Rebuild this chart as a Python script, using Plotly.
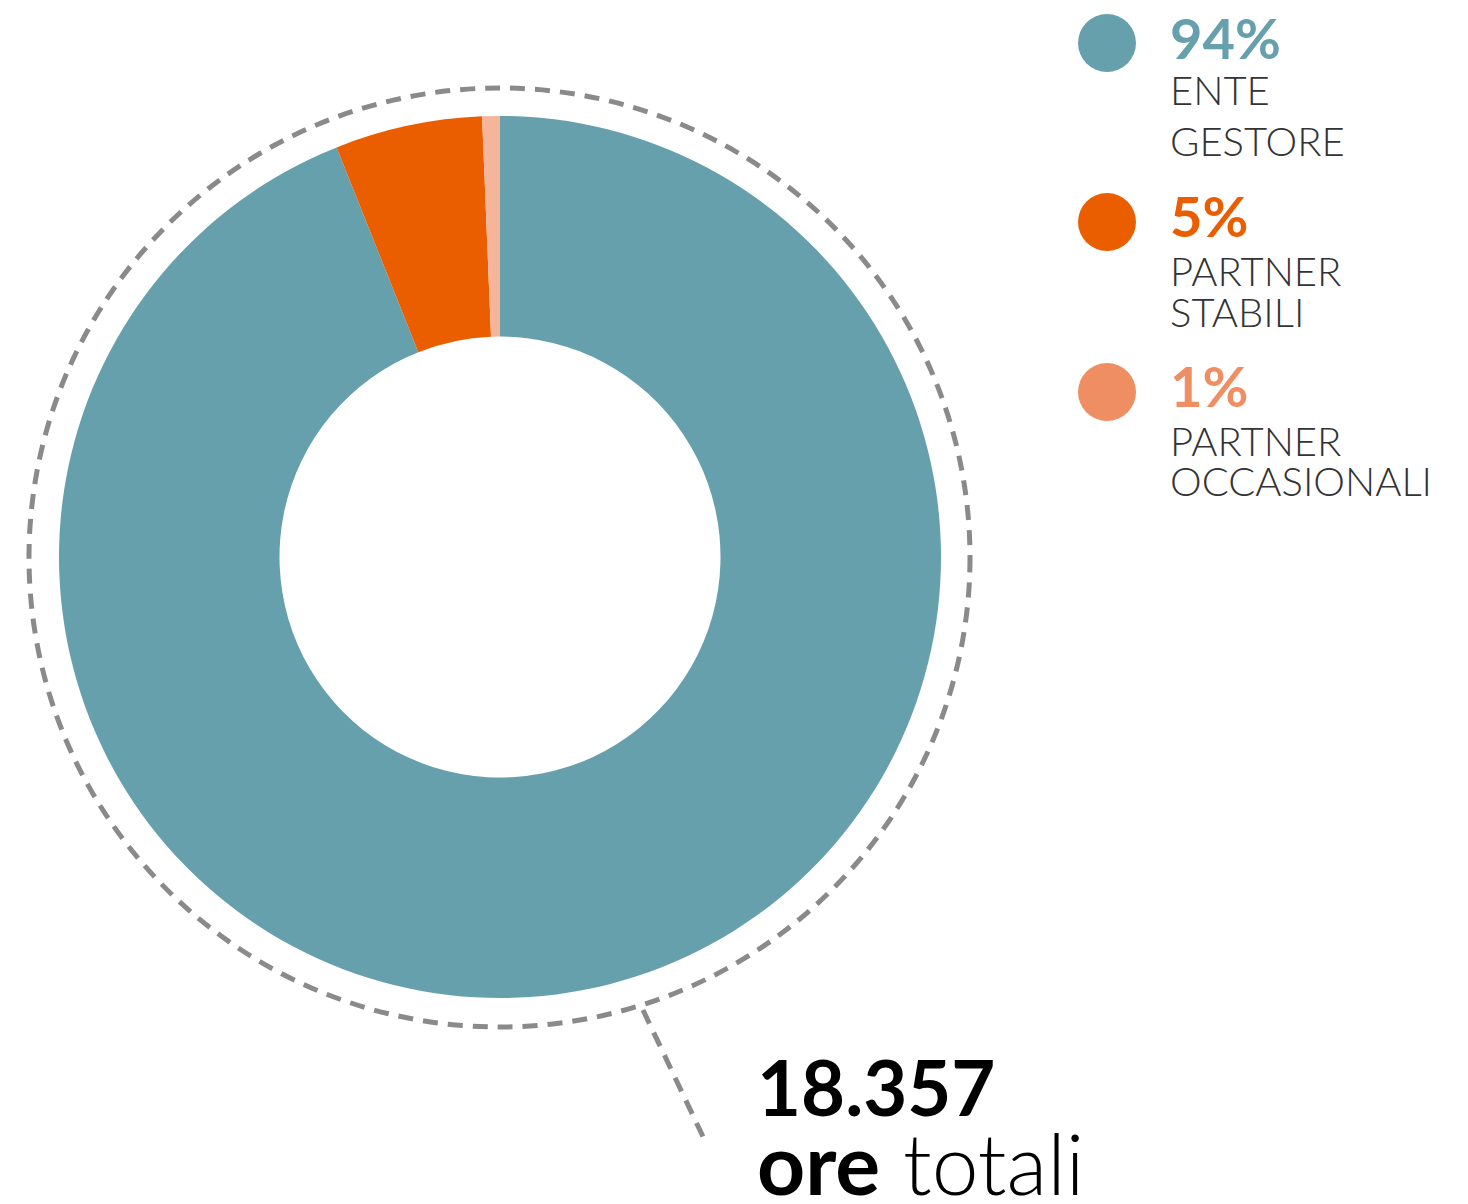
import plotly.graph_objects as go

# page body has an 8px margin: draw the figure 8px smaller and offset coordinates
OFF = 8
W, H = 1468 - 2 * OFF, 1204 - 2 * OFF

categories = ["ENTE GESTORE", "PARTNER STABILI", "PARTNER OCCASIONALI"]
hours = [17248, 990, 119]
pct_labels = ["94%", "5%", "1%"]
label_lines = [["ENTE", "GESTORE"], ["PARTNER", "STABILI"], ["PARTNER", "OCCASIONALI"]]
slice_colors = ["#67A0AD", "#EB5E00", "#F5B59A"]
legend_colors = ["#67A0AD", "#EB5E00", "#EF8E62"]
total_value = "18.357"
total_unit_bold = "ore"
total_unit_light = "totali"

FONT = "Lato"

def px(x):
    return (x - OFF) / W

def py(y):
    return 1 - (y - OFF) / H

cx, cy, r_out = 500, 557, 441

fig = go.Figure(go.Pie(
    labels=categories,
    values=hours,
    sort=False,
    direction="clockwise",
    rotation=0,
    hole=0.5,
    marker=dict(colors=slice_colors, line=dict(width=0)),
    textinfo="none",
    hoverinfo="label+value+percent",
    domain=dict(x=[px(cx - r_out), px(cx + r_out)], y=[py(cy + r_out), py(cy - r_out)]),
    showlegend=False,
))

shapes = []
dash_line = dict(color="#8A8A8A", width=5, dash="15px,10px")
# dashed outer ring
shapes.append(dict(type="circle", xref="paper", yref="paper",
                   x0=px(29), x1=px(970), y0=py(1027), y1=py(88),
                   line=dash_line))
# leader line
shapes.append(dict(type="line", xref="paper", yref="paper",
                   x0=px(643), y0=py(1010), x1=px(706), y1=py(1143),
                   line=dash_line))

annotations = []
dot_y = [43, 222, 392]
pct_y = [37, 216, 386]
line_y = [[90, 141], [271, 312], [441, 481]]
for i in range(3):
    shapes.append(dict(type="circle", xref="paper", yref="paper",
                       x0=px(1107 - 29), x1=px(1107 + 29),
                       y0=py(dot_y[i] + 29), y1=py(dot_y[i] - 29),
                       fillcolor=legend_colors[i], line=dict(width=0)))
    annotations.append(dict(xref="paper", yref="paper", x=px(1168), y=py(pct_y[i]),
                            xanchor="left", yanchor="middle", showarrow=False,
                            text="<b>" + pct_labels[i] + "</b>",
                            font=dict(family=FONT, size=56, color=legend_colors[i])))
    for j, t in enumerate(label_lines[i]):
        annotations.append(dict(xref="paper", yref="paper", x=px(1168), y=py(line_y[i][j]),
                                xanchor="left", yanchor="middle", showarrow=False,
                                text=t,
                                font=dict(family=FONT, size=40, color="#333333", weight=300)))

annotations.append(dict(xref="paper", yref="paper", x=px(755), y=py(1086),
                        xanchor="left", yanchor="middle", showarrow=False,
                        text="<b>" + total_value + "</b>",
                        font=dict(family=FONT, size=76, color="#000000")))
annotations.append(dict(xref="paper", yref="paper", x=px(755), y=py(1162),
                        xanchor="left", yanchor="middle", showarrow=False,
                        text="<b>" + total_unit_bold + "</b> " + total_unit_light,
                        font=dict(family=FONT, size=84, color="#000000", weight=300)))

fig.update_layout(
    width=W, height=H,
    margin=dict(l=0, r=0, t=0, b=0),
    paper_bgcolor="white", plot_bgcolor="white",
    shapes=shapes, annotations=annotations,
)

fig.write_html("out.html")
